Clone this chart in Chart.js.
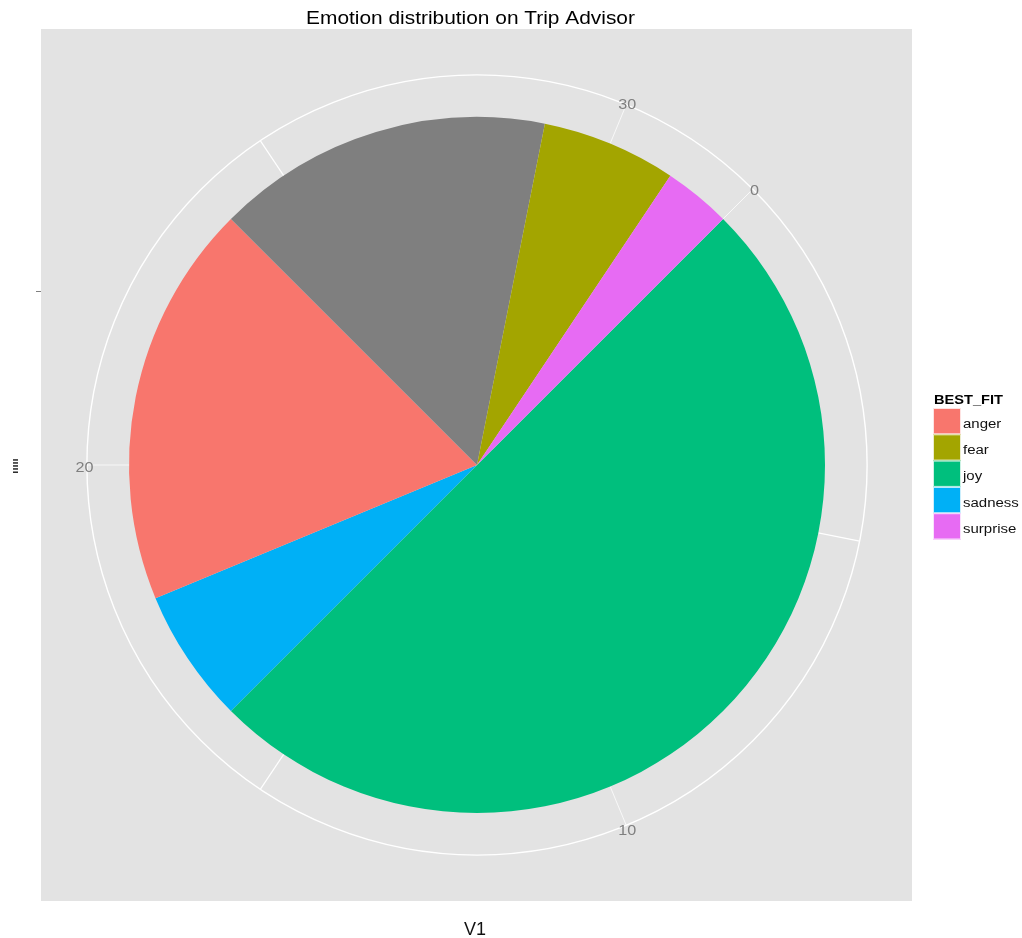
<!DOCTYPE html>
<html>
<head>
<meta charset="utf-8">
<title>Emotion distribution on Trip Advisor</title>
<script src="https://cdn.jsdelivr.net/npm/chart.js@4.4.1/dist/chart.umd.min.js"></script>
<style>
  html, body { margin: 0; padding: 0; background: #fff; }
  canvas { display: block; }
</style>
</head>
<body>
<canvas id="pie" width="1022" height="938"></canvas>
<script>
/* ──────── DATA ──────── */

// slices in drawing order, clockwise from the "0" tick
const CATEGORIES = ['joy', 'sadness', 'anger', 'NA', 'fear', 'surprise'];
const COUNTS = [16, 2, 6, 5, 2, 1];
const SLICE_COLORS = ['#00BF7D', '#00B0F6', '#F8766D', '#7F7F7F', '#A3A500', '#E76BF3'];

// legend (NA is not listed)
const LEGEND_LABELS = ['anger', 'fear', 'joy', 'sadness', 'surprise'];
const LEGEND_COLORS = ['#F8766D', '#A3A500', '#00BF7D', '#00B0F6', '#E76BF3'];

const MAJOR_TICKS = [0, 10, 20, 30];
const MINOR_TICKS = [5, 15, 25];

const TITLE = 'Emotion distribution on Trip Advisor';
const X_TITLE = 'V1';
const LEGEND_TITLE = 'BEST_FIT';

const ROTATION = 45;          // degrees, where the theta axis starts
const FONT = "'Liberation Sans', Arial, sans-serif";

/* ──────── HELPERS ──────── */

const TOTAL = COUNTS.reduce((a, b) => a + b, 0);

function thetaRad(v) {
  // clockwise from 12 o'clock, canvas coordinates
  return (ROTATION + (v / TOTAL) * 360 - 90) * Math.PI / 180;
}

// R on Windows renders text a little wider than it is tall
function drawText(ctx, text, x, y, size, opts = {}) {
  const sx = opts.sx || 1;
  ctx.save();
  ctx.font = `${opts.bold ? 'bold ' : ''}${size}px ${FONT}`;
  ctx.fillStyle = opts.color || '#000';
  ctx.textAlign = opts.align || 'left';
  ctx.textBaseline = opts.baseline || 'alphabetic';
  ctx.translate(x, y);
  ctx.scale(sx, 1);
  ctx.fillText(text, 0, 0);
  ctx.restore();
}

/* ──────── PANEL PLUGIN ──────── */

const ggPanel = {
  id: 'ggPanel',
  beforeDraw(chart) {
    const ctx = chart.ctx;
    const arc = chart.getDatasetMeta(0).data[0];
    const cx = arc.x, cy = arc.y, r = arc.outerRadius;
    const gridR = r * 1.121;

    ctx.save();
    ctx.fillStyle = '#fff';
    ctx.fillRect(0, 0, chart.width, chart.height);

    // grey panel
    ctx.fillStyle = '#E3E3E3';
    ctx.fillRect(41, 29, 871, 872);

    // theta grid lines (mostly hidden under the pie)
    const spoke = (v, color, w) => {
      const a = thetaRad(v);
      ctx.strokeStyle = color;
      ctx.lineWidth = w;
      ctx.beginPath();
      ctx.moveTo(cx, cy);
      ctx.lineTo(cx + gridR * Math.cos(a), cy + gridR * Math.sin(a));
      ctx.stroke();
    };
    MAJOR_TICKS.forEach(v => spoke(v, 'rgba(255,255,255,0.75)', 1));
    MINOR_TICKS.forEach(v => spoke(v, '#ffffff', 1.2));

    // outer circle
    ctx.strokeStyle = '#ffffff';
    ctx.lineWidth = 1.4;
    ctx.beginPath();
    ctx.arc(cx, cy, gridR, 0, Math.PI * 2);
    ctx.stroke();
    ctx.restore();
  },

  afterDraw(chart) {
    const ctx = chart.ctx;
    const arc = chart.getDatasetMeta(0).data[0];
    const cx = arc.x, cy = arc.y, r = arc.outerRadius;
    const labelR = r * 1.128;

    // theta tick labels
    MAJOR_TICKS.forEach(v => {
      const a = thetaRad(v);
      drawText(ctx, String(v), cx + labelR * Math.cos(a), cy + labelR * Math.sin(a) + 3, 15,
        { color: '#7F7F7F', align: 'center', baseline: 'middle', sx: 1.08 });
    });

    // r axis: one tick, no label
    ctx.save();
    ctx.strokeStyle = '#7F7F7F';
    ctx.lineWidth = 1;
    ctx.beginPath();
    ctx.moveTo(36, 291.5);
    ctx.lineTo(41, 291.5);
    ctx.stroke();
    ctx.restore();

    // r axis title (rendered as a squashed rotated glyph run)
    ctx.save();
    ctx.translate(15, 466);
    ctx.rotate(-Math.PI / 2);
    ctx.scale(1, 0.5);
    ctx.font = `bold 11px ${FONT}`;
    ctx.fillStyle = '#111';
    ctx.textAlign = 'center';
    ctx.textBaseline = 'middle';
    ctx.fillText('|||||', 0, 0);
    ctx.restore();

    // titles
    drawText(ctx, TITLE, 470.5, 23.5, 18, { align: 'center', sx: 1.16 });
    drawText(ctx, X_TITLE, 475, 935, 18, { align: 'center', color: '#111' });

    // legend
    drawText(ctx, LEGEND_TITLE, 934, 404, 12.6, { bold: true, sx: 1.16 });
    const keyX = 933, keyY = 408, keyW = 28, keyH = 26.3;
    LEGEND_LABELS.forEach((lab, i) => {
      const y = keyY + i * keyH;
      ctx.save();
      ctx.fillStyle = LEGEND_COLORS[i];
      ctx.fillRect(keyX, y, keyW, keyH);
      ctx.strokeStyle = 'rgba(255,255,255,0.8)';
      ctx.lineWidth = 1;
      ctx.strokeRect(keyX + 0.5, y + 0.5, keyW - 1, keyH - 1);
      ctx.restore();
      drawText(ctx, lab, 963, y + keyH / 2 + 6.5, 12.5, { color: '#111', sx: 1.2 });
    });
  }
};

/* ──────── CHART ──────── */

new Chart(document.getElementById('pie').getContext('2d'), {
  type: 'pie',
  data: {
    labels: CATEGORIES,
    datasets: [{
      data: COUNTS,
      backgroundColor: SLICE_COLORS,
      borderWidth: 0,
      hoverOffset: 0,
      offset: 0,
      spacing: 0
    }]
  },
  options: {
    responsive: false,
    animation: false,
    devicePixelRatio: 1,
    rotation: ROTATION,
    layout: { padding: { left: 128.5, right: 196.5, top: 117, bottom: 125 } },
    plugins: {
      legend: { display: false },
      title: { display: false },
      tooltip: { enabled: false }
    },
    events: []
  },
  plugins: [ggPanel]
});
</script>
</body>
</html>
